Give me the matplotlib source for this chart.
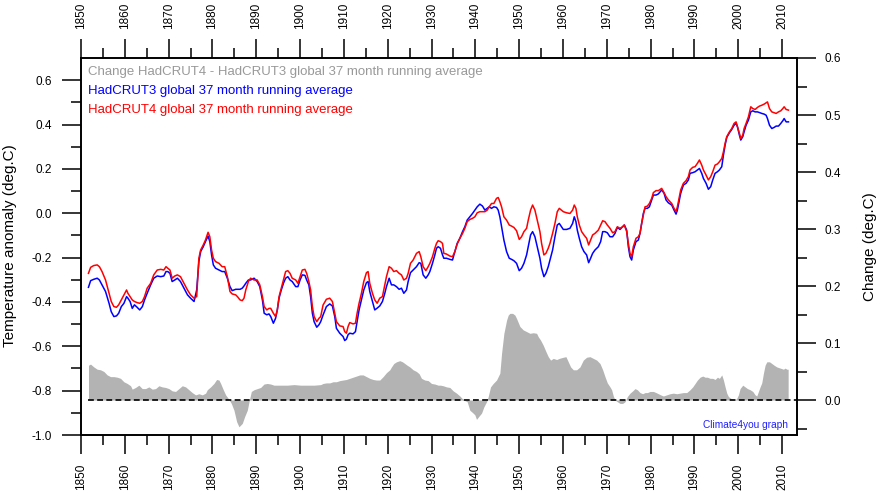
import numpy as np
import matplotlib.pyplot as plt
from matplotlib.ticker import MultipleLocator, FuncFormatter

plt.rcParams['font.family'] = ['Liberation Sans', 'DejaVu Sans']

# 37 month running averages (deg.C)
years = [
    1851.7, 1852.2, 1852.9, 1853.7, 1854.2, 1854.8, 1855.6, 1856.4, 1856.9, 1857.5,
    1858.1, 1858.6, 1859.2, 1859.8, 1860.4, 1860.7, 1861.2, 1861.7, 1862.2, 1862.8,
    1863.4, 1864.0, 1864.5, 1865.1, 1865.9, 1866.6, 1867.4, 1868.2, 1868.9, 1869.4,
    1869.8, 1870.3, 1870.8, 1871.4, 1872.0, 1872.7, 1873.5, 1874.3, 1875.0, 1875.8,
    1876.4, 1876.9, 1877.3, 1877.9, 1878.4, 1879.0, 1879.4, 1879.8, 1880.2, 1880.7,
    1881.5, 1882.2, 1882.8, 1883.4, 1884.0, 1884.5, 1885.3, 1885.7, 1886.3, 1886.8,
    1887.2, 1887.6, 1888.2, 1888.7, 1889.5, 1890.2, 1890.8, 1891.4, 1891.8, 1892.4,
    1892.9, 1893.3, 1893.9, 1894.4, 1894.8, 1895.2, 1895.6, 1896.2, 1896.7, 1897.2,
    1897.7, 1898.2, 1899.0, 1899.5, 1900.0, 1900.5, 1901.1, 1901.5, 1902.0, 1902.4,
    1902.8, 1903.2, 1903.8, 1904.3, 1904.7,
    1905.24, 1906.00, 1906.76, 1907.37, 1907.91, 1908.29, 1909.05, 1909.81, 1910.19, 1910.57,
    1910.95, 1911.33, 1912.09, 1912.63, 1913.01, 1913.46, 1914.00, 1914.53, 1915.14, 1915.52,
    1915.90, 1916.51, 1917.04, 1917.58, 1918.18, 1918.79, 1919.33, 1919.71, 1920.32, 1920.85,
    1921.38, 1921.99, 1922.60, 1923.13, 1923.67, 1924.28, 1924.66, 1925.19, 1925.80, 1926.56,
    1927.17, 1927.55, 1928.08, 1928.69, 1929.23, 1929.61, 1930.21, 1930.75, 1931.13, 1931.51,
    1932.04, 1932.50, 1932.80, 1933.41, 1934.17, 1934.78, 1935.32, 1935.85, 1936.46, 1937.07,
    1937.60, 1938.13, 1938.74, 1939.35, 1939.88, 1940.42, 1941.03, 1941.64, 1942.17, 1942.70,
    1943.16, 1943.69, 1944.22, 1944.83, 1945.21, 1945.59, 1945.98, 1946.51, 1947.12, 1947.73,
    1948.26, 1948.79, 1949.40, 1950.01, 1950.54, 1951.08, 1951.69, 1952.07, 1952.60, 1953.06,
    1953.59, 1954.12, 1954.73, 1955.11, 1955.64, 1956.10, 1956.63, 1957.02, 1957.62, 1958.16,
    1958.69, 1959.15,
    1960.06, 1960.82, 1961.58, 1962.19, 1962.57, 1962.95, 1963.26, 1963.72, 1964.25, 1964.78,
    1965.39, 1965.85, 1966.30, 1966.76, 1967.29, 1968.06, 1968.59, 1969.05, 1969.58, 1970.11,
    1970.72, 1971.33, 1971.86, 1972.40, 1973.00, 1973.61, 1973.99, 1974.53, 1974.91, 1975.29,
    1975.67, 1976.05, 1976.66, 1977.19, 1977.57, 1977.95, 1978.33, 1978.72, 1979.25, 1979.71,
    1980.24, 1980.62, 1981.23, 1981.76, 1982.52, 1983.06, 1983.51, 1984.05, 1984.81, 1985.34,
    1985.80, 1986.10, 1986.56, 1986.86, 1987.47, 1988.08, 1988.61, 1988.99, 1989.60, 1990.14,
    1990.67, 1991.13, 1991.66, 1992.04, 1992.65, 1993.18, 1993.71, 1994.17, 1994.70, 1995.24,
    1995.69, 1996.23, 1996.61, 1996.99, 1997.37, 1997.98, 1998.51, 1999.04, 1999.50, 1999.81,
    2000.26, 2000.57, 2001.02, 2001.33, 2001.78, 2002.32, 2002.85, 2003.31, 2003.84, 2004.37,
    2004.83, 2005.36, 2005.90, 2006.35, 2006.66, 2007.12, 2007.65, 2008.18, 2008.64, 2009.17,
    2009.70, 2010.16, 2010.47, 2010.92, 2011.45,
]

hadcrut4 = [
    -0.271, -0.244, -0.236, -0.233, -0.241, -0.263, -0.301, -0.361, -0.398, -0.421,
    -0.424, -0.413, -0.391, -0.368, -0.346, -0.361, -0.376, -0.391, -0.398, -0.403,
    -0.406, -0.398, -0.376, -0.338, -0.316, -0.278, -0.256, -0.253, -0.256, -0.241,
    -0.248, -0.256, -0.293, -0.283, -0.278, -0.286, -0.316, -0.346, -0.368, -0.383,
    -0.376, -0.203, -0.166, -0.143, -0.121, -0.086, -0.106, -0.166, -0.203, -0.218,
    -0.226, -0.241, -0.241, -0.286, -0.353, -0.364, -0.368, -0.376, -0.391, -0.394,
    -0.383, -0.346, -0.308, -0.293, -0.301, -0.301, -0.323, -0.376, -0.421, -0.436,
    -0.429, -0.429, -0.451, -0.466, -0.436, -0.376, -0.346, -0.301, -0.263, -0.259,
    -0.271, -0.293, -0.301, -0.316, -0.286, -0.256, -0.253, -0.271, -0.308, -0.346,
    -0.421, -0.466, -0.489, -0.474, -0.466,
    -0.414, -0.388, -0.383, -0.398, -0.451, -0.489, -0.508, -0.511, -0.534, -0.541,
    -0.511, -0.493, -0.499, -0.496, -0.451, -0.406, -0.361, -0.308, -0.268, -0.263,
    -0.316, -0.361, -0.391, -0.406, -0.383, -0.376, -0.323, -0.286, -0.241, -0.248,
    -0.263, -0.259, -0.271, -0.278, -0.301, -0.293, -0.271, -0.226, -0.211, -0.181,
    -0.173, -0.196, -0.241, -0.259, -0.241, -0.226, -0.196, -0.158, -0.136, -0.124,
    -0.128, -0.136, -0.181, -0.184, -0.193, -0.196, -0.173, -0.139, -0.113, -0.091,
    -0.068, -0.038, -0.028, -0.023, -0.016, 0.002, 0.007, 0.007, 0.007, 0.014,
    0.029, 0.044, 0.044, 0.067, 0.071, 0.052, 0.029, -0.016, -0.031, -0.053,
    -0.058, -0.064, -0.079, -0.118, -0.106, -0.083, -0.068, -0.031, 0.014, 0.037,
    0.014, -0.031, -0.083, -0.136, -0.188, -0.181, -0.158, -0.136, -0.091, -0.046,
    0.007, 0.022,
    0.007, 0.002, -0.001, 0.014, 0.037, 0.022, -0.016, -0.053, -0.083, -0.098,
    -0.113, -0.143, -0.121, -0.098, -0.091, -0.076, -0.053, -0.034, -0.038, -0.053,
    -0.068, -0.088, -0.083, -0.061, -0.068, -0.061, -0.053, -0.083, -0.136, -0.181,
    -0.196, -0.151, -0.113, -0.106, -0.091, -0.046, -0.008, 0.029, 0.032, 0.044,
    0.067, 0.093, 0.102, 0.102, 0.112, 0.093, 0.075, 0.060, 0.044, 0.022,
    0.007, 0.029, 0.075, 0.105, 0.135, 0.147, 0.165, 0.195, 0.207, 0.210,
    0.225, 0.240, 0.217, 0.195, 0.172, 0.150, 0.165, 0.187, 0.217, 0.222,
    0.232, 0.247, 0.277, 0.315, 0.345, 0.367, 0.382, 0.405, 0.412, 0.390,
    0.360, 0.337, 0.352, 0.382, 0.405, 0.435, 0.480, 0.472, 0.468, 0.477,
    0.483, 0.487, 0.492, 0.498, 0.502, 0.472, 0.457, 0.453, 0.450, 0.457,
    0.462, 0.472, 0.480, 0.468, 0.465,
]

hadcrut3 = [
    -0.334, -0.304, -0.298, -0.293, -0.301, -0.323, -0.353, -0.406, -0.444, -0.466,
    -0.463, -0.451, -0.421, -0.406, -0.376, -0.383, -0.398, -0.429, -0.413, -0.424,
    -0.436, -0.421, -0.391, -0.361, -0.323, -0.293, -0.283, -0.286, -0.283, -0.263,
    -0.263, -0.271, -0.308, -0.301, -0.293, -0.308, -0.338, -0.368, -0.383, -0.398,
    -0.346, -0.218, -0.173, -0.151, -0.128, -0.103, -0.128, -0.188, -0.233, -0.248,
    -0.256, -0.263, -0.263, -0.293, -0.331, -0.349, -0.343, -0.343, -0.343, -0.338,
    -0.328, -0.316, -0.301, -0.301, -0.293, -0.308, -0.331, -0.391, -0.451, -0.458,
    -0.454, -0.466, -0.496, -0.474, -0.436, -0.383, -0.353, -0.316, -0.293, -0.286,
    -0.301, -0.308, -0.331, -0.331, -0.301, -0.278, -0.280, -0.301, -0.323, -0.376,
    -0.451, -0.489, -0.514, -0.503, -0.489,
    -0.459, -0.421, -0.409, -0.418, -0.466, -0.519, -0.541, -0.556, -0.574, -0.568,
    -0.548, -0.541, -0.544, -0.534, -0.489, -0.436, -0.391, -0.346, -0.313, -0.308,
    -0.353, -0.398, -0.436, -0.428, -0.418, -0.398, -0.361, -0.331, -0.293, -0.323,
    -0.323, -0.331, -0.343, -0.338, -0.361, -0.346, -0.308, -0.268, -0.256, -0.241,
    -0.223, -0.226, -0.278, -0.293, -0.278, -0.263, -0.226, -0.188, -0.158, -0.151,
    -0.158, -0.188, -0.203, -0.203, -0.208, -0.211, -0.173, -0.136, -0.113, -0.083,
    -0.061, -0.031, -0.016, -0.001, 0.014, 0.029, 0.041, 0.032, 0.014, 0.022,
    0.029, 0.022, 0.029, 0.026, 0.014, -0.016, -0.061, -0.121, -0.173, -0.203,
    -0.208, -0.214, -0.226, -0.259, -0.248, -0.226, -0.188, -0.151, -0.098, -0.083,
    -0.106, -0.151, -0.203, -0.248, -0.286, -0.271, -0.241, -0.211, -0.166, -0.106,
    -0.053, -0.046,
    -0.073, -0.073, -0.068, -0.046, -0.016, -0.038, -0.076, -0.113, -0.151, -0.173,
    -0.188, -0.223, -0.203, -0.181, -0.166, -0.151, -0.128, -0.083, -0.083, -0.088,
    -0.106, -0.106, -0.091, -0.064, -0.073, -0.061, -0.053, -0.076, -0.151, -0.196,
    -0.211, -0.166, -0.128, -0.121, -0.091, -0.046, -0.001, 0.022, 0.022, 0.029,
    0.060, 0.082, 0.082, 0.087, 0.105, 0.090, 0.060, 0.047, 0.037, 0.014,
    -0.004, 0.014, 0.060, 0.090, 0.127, 0.135, 0.150, 0.180, 0.183, 0.187,
    0.195, 0.202, 0.180, 0.157, 0.135, 0.108, 0.120, 0.150, 0.180, 0.187,
    0.195, 0.210, 0.262, 0.307, 0.342, 0.363, 0.378, 0.397, 0.405, 0.390,
    0.352, 0.330, 0.345, 0.367, 0.397, 0.420, 0.457, 0.462, 0.457, 0.457,
    0.454, 0.450, 0.447, 0.442, 0.427, 0.397, 0.382, 0.387, 0.393, 0.393,
    0.405, 0.417, 0.427, 0.412, 0.412,
]

# HadCRUT4 - HadCRUT3 change (right axis)
diff_years = [
    1851.71, 1852.17, 1852.93, 1853.69, 1854.45, 1855.22, 1855.98, 1856.74, 1857.50, 1858.26,
    1859.02, 1859.78, 1860.55, 1861.31, 1861.69, 1862.45, 1863.21, 1863.97, 1864.73, 1865.49,
    1866.26, 1867.02, 1867.78, 1868.54, 1869.30, 1870.06, 1870.82, 1871.58, 1872.35, 1873.11,
    1873.87, 1874.63, 1875.39, 1876.15, 1876.91, 1877.68, 1878.44, 1878.82, 1879.58, 1880.34,
    1880.95, 1881.48, 1881.87, 1882.47, 1883.01, 1883.77, 1884.30, 1884.91, 1885.52, 1886.05,
    1886.81, 1887.35, 1887.95, 1888.34, 1888.87, 1889.48, 1890.24, 1891.00, 1891.76, 1892.52,
    1893.28, 1894.05, 1895.57, 1897.09, 1898.61, 1900.14, 1901.66, 1903.18, 1904.71,
    1905.24, 1906.00, 1906.76, 1907.53, 1908.29, 1909.05, 1909.81, 1910.57, 1911.33, 1912.09,
    1912.86, 1913.62, 1914.38, 1915.14, 1915.90, 1916.66, 1917.42, 1918.18, 1918.95, 1919.71,
    1920.47, 1920.85, 1921.38, 1921.99, 1922.75, 1923.36, 1923.90, 1924.43, 1925.04, 1925.80,
    1926.56, 1927.17, 1927.70, 1928.46, 1929.23, 1929.99, 1930.75, 1931.51, 1932.04, 1932.65,
    1933.41, 1934.17, 1934.94, 1935.70, 1936.46, 1937.07, 1937.60, 1938.13, 1938.74, 1939.35,
    1939.88, 1940.26, 1940.87, 1941.41, 1941.94, 1942.55, 1942.93, 1943.46, 1944.07, 1944.83,
    1945.59, 1945.98, 1946.51, 1947.12, 1947.50, 1947.88, 1948.49, 1949.02, 1949.40, 1949.78,
    1950.16, 1950.92, 1951.69, 1952.45, 1953.21, 1953.97, 1954.35, 1954.88, 1955.49, 1956.10,
    1956.63, 1957.17, 1957.78, 1958.54, 1959.15,
    1960.06, 1960.67, 1961.20, 1961.74, 1962.35, 1963.11, 1963.87, 1964.63, 1965.39, 1966.15,
    1966.91, 1967.68, 1968.44, 1969.05, 1969.58, 1970.11, 1970.72, 1971.10, 1971.48, 1971.86,
    1972.40, 1973.00, 1973.61, 1974.15, 1974.68, 1975.29, 1975.90, 1976.43, 1976.96, 1977.57,
    1978.18, 1978.72, 1979.25, 1979.86, 1980.62, 1981.23, 1981.76, 1982.29, 1982.90, 1983.66,
    1984.43, 1985.19, 1985.95, 1986.71, 1987.47, 1988.23, 1988.99, 1989.60, 1990.14, 1990.67,
    1991.28, 1991.89, 1992.42, 1992.95, 1993.56, 1994.17, 1994.70, 1995.24, 1995.69, 1996.23,
    1996.61, 1996.99, 1997.37, 1997.75, 1998.28, 1998.89, 1999.27, 1999.65, 2000.03, 2000.41,
    2001.02, 2001.56, 2002.09, 2002.70, 2003.31, 2003.84, 2004.22, 2004.60, 2004.98, 2005.36,
    2005.74, 2006.12, 2006.51, 2007.12, 2007.65, 2008.18, 2008.79, 2009.55, 2010.31, 2010.69,
    2011.08, 2011.38,
]

diff = [
    0.061, 0.063, 0.058, 0.054, 0.053, 0.050, 0.044, 0.041, 0.041, 0.040,
    0.038, 0.032, 0.029, 0.025, 0.019, 0.022, 0.026, 0.020, 0.020, 0.023,
    0.019, 0.020, 0.025, 0.023, 0.022, 0.020, 0.016, 0.015, 0.020, 0.025,
    0.023, 0.018, 0.013, 0.009, 0.011, 0.009, 0.012, 0.018, 0.023, 0.029,
    0.036, 0.035, 0.029, 0.018, 0.009, 0.001, -0.006, -0.018, -0.038, -0.047,
    -0.041, -0.029, -0.018, -0.003, 0.015, 0.018, 0.020, 0.022, 0.028, 0.029,
    0.028, 0.026, 0.026, 0.026, 0.027, 0.026, 0.026, 0.026, 0.027,
    0.029, 0.030, 0.030, 0.032, 0.032, 0.034, 0.035, 0.036, 0.038, 0.040,
    0.042, 0.044, 0.044, 0.041, 0.038, 0.036, 0.035, 0.035, 0.041, 0.048,
    0.053, 0.058, 0.064, 0.067, 0.069, 0.067, 0.064, 0.061, 0.058, 0.053,
    0.050, 0.046, 0.038, 0.035, 0.034, 0.029, 0.028, 0.026, 0.026, 0.025,
    0.023, 0.022, 0.016, 0.012, 0.007, 0.002, -0.001, -0.003, -0.018, -0.022,
    -0.026, -0.034, -0.028, -0.023, -0.012, -0.003, 0.006, 0.023, 0.029, 0.035,
    0.047, 0.082, 0.117, 0.140, 0.149, 0.152, 0.152, 0.149, 0.143, 0.136,
    0.129, 0.123, 0.120, 0.117, 0.118, 0.117, 0.111, 0.105, 0.096, 0.085,
    0.076, 0.070, 0.073, 0.071, 0.073,
    0.075, 0.076, 0.067, 0.058, 0.053, 0.053, 0.058, 0.070, 0.075, 0.076,
    0.073, 0.070, 0.064, 0.053, 0.041, 0.030, 0.023, 0.018, 0.007, 0.000,
    -0.003, -0.006, -0.006, -0.003, 0.006, 0.012, 0.016, 0.020, 0.018, 0.013,
    0.011, 0.013, 0.013, 0.015, 0.015, 0.013, 0.011, 0.009, 0.007, 0.009,
    0.011, 0.012, 0.011, 0.012, 0.013, 0.013, 0.018, 0.023, 0.029, 0.035,
    0.040, 0.042, 0.040, 0.040, 0.038, 0.038, 0.036, 0.040, 0.038, 0.044,
    0.035, 0.023, 0.012, 0.006, 0.003, 0.001, 0.000, 0.003, 0.009, 0.020,
    0.026, 0.023, 0.020, 0.018, 0.015, 0.009, 0.007, 0.015, 0.023, 0.030,
    0.047, 0.061, 0.067, 0.067, 0.064, 0.061, 0.058, 0.056, 0.054, 0.056,
    0.054, 0.054,
]


def one_decimal(v, pos):
    s = '%.1f' % v
    return '0.0' if s == '-0.0' else s


W, H = 880, 493
fig = plt.figure(figsize=(W / 100, H / 100), dpi=100)
ax = fig.add_axes([81 / W, 1 - 435 / H, (797 - 81) / W, (435 - 58) / H])

ax.plot(years, hadcrut3, color='#0000ff', lw=1.1)
ax.plot(years, hadcrut4, color='#ff0000', lw=1.1)
ax.set_xlim(1850, 2013.4)
ax.set_ylim(-1.0, 0.7)

ax2 = ax.twinx()
ax2.set_ylim(-0.0614, 0.6)
ax2.fill_between(diff_years, 0, diff, color='#b3b3b3', lw=0)
ax2.hlines(0, 1851.5, 2013.4, colors='black', linestyles=(0, (3.5, 2)), lw=1.2)

# ticks
ax.xaxis.set_major_locator(MultipleLocator(10))
ax.xaxis.set_minor_locator(MultipleLocator(5))
ax.set_yticks(np.round(np.arange(-1.0, 0.61, 0.2), 1))
ax.set_yticks(np.round(np.arange(-0.9, 0.6, 0.2), 1), minor=True)
ax.yaxis.set_major_formatter(FuncFormatter(one_decimal))
ax2.set_yticks(np.round(np.arange(0.0, 0.61, 0.1), 1))
ax2.set_yticks(np.round(np.arange(-0.05, 0.6, 0.1), 2), minor=True)
ax2.yaxis.set_major_formatter(FuncFormatter(one_decimal))

for a in (ax, ax2):
    for s in a.spines.values():
        s.set_linewidth(1.2)
ax.tick_params(axis='x', which='both', top=True, bottom=True, labeltop=True,
               labelbottom=True, direction='out', labelrotation=90, labelsize=8.5)
ax.tick_params(axis='x', which='major', length=13.7, width=1.1, pad=7)
ax.tick_params(axis='x', which='minor', length=7.2, width=1.1)
ax.tick_params(axis='y', which='major', length=13.7, width=1.1, pad=7, labelsize=8.5)
ax.tick_params(axis='y', which='minor', length=7.2, width=1.1)
ax2.tick_params(axis='y', which='major', length=13.7, width=1.1, pad=6, labelsize=8.5)
ax2.tick_params(axis='y', which='minor', length=7.2, width=1.1)

fig.text(10 / W, 1 - 246 / H, 'Temperature anomaly (deg.C)', rotation=90,
         ha='center', va='center', fontsize=11)
fig.text(870 / W, 1 - 247 / H, 'Change (deg.C)', rotation=90,
         ha='center', va='center', fontsize=11)

fig.text(88 / W, 1 - 72 / H, 'Change HadCRUT4 - HadCRUT3 global 37 month running average',
         color='#999999', fontsize=9.5, va='center')
fig.text(88 / W, 1 - 91 / H, 'HadCRUT3 global 37 month running average',
         color='#0000ff', fontsize=9.5, va='center')
fig.text(88 / W, 1 - 110 / H, 'HadCRUT4 global 37 month running average',
         color='#ff0000', fontsize=9.5, va='center')
fig.text(788 / W, 1 - 425 / H, 'Climate4you graph', color='#2020ff',
         fontsize=7.3, ha='right', va='center')

fig.savefig('out.png', dpi=100)
